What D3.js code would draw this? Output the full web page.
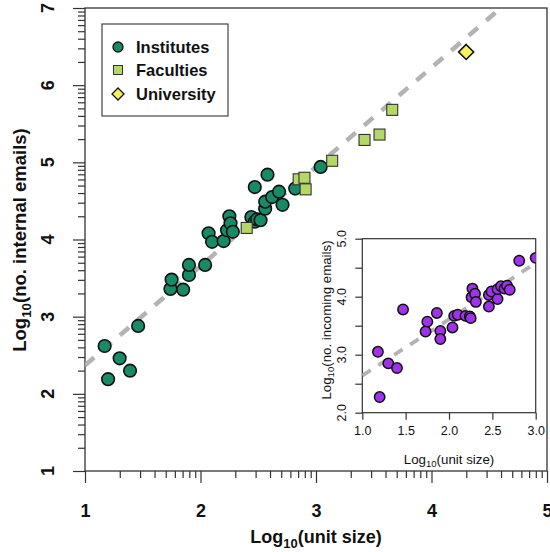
<!DOCTYPE html>
<html><head><meta charset="utf-8">
<script src="https://cdn.jsdelivr.net/npm/d3@7"></script>
<style>
body{margin:0;background:#fff}
svg{display:block}
text{font-family:"Liberation Sans",Arial,Helvetica,sans-serif;fill:#111}
</style>
</head><body>
<svg id="chart" width="550" height="552"></svg>
<script>
// ---------- data ----------
const categories = ["Institutes", "Faculties", "University"];
const instX = [1.17,1.20,1.30,1.39,1.46,1.74,1.75,1.85,1.90,1.90,2.04,2.07,2.10,2.20,2.23,2.25,2.26,2.28,2.44,2.47,2.49,2.52,2.47,2.56,2.56,2.58,2.62,2.68,2.71,2.82,3.04];
const instY = [2.62,2.19,2.46,2.30,2.88,3.36,3.48,3.35,3.54,3.67,3.67,4.08,3.97,3.98,4.12,4.30,4.21,4.10,4.29,4.23,4.26,4.25,4.68,4.40,4.49,4.84,4.55,4.62,4.45,4.66,4.94];
const facX = [2.40,2.85,2.90,2.91,3.14,3.42,3.55,3.66];
const facY = [4.15,4.78,4.80,4.65,5.02,5.29,5.36,5.68];
const uniX = [4.30];
const uniY = [6.43];
const fitX = [1.0, 4.6];
const fitY = [2.37, 7.0];

const insetX = [1.18,1.20,1.30,1.40,1.47,1.73,1.75,1.86,1.90,1.90,2.04,2.06,2.10,2.19,2.24,2.25,2.26,2.27,2.30,2.31,2.46,2.46,2.49,2.56,2.56,2.60,2.64,2.67,2.70,2.81,3.00];
const insetY = [3.05,2.27,2.85,2.77,3.78,3.40,3.57,3.72,3.41,3.27,3.47,3.67,3.69,3.67,3.66,3.63,3.99,4.14,4.05,3.91,3.83,4.03,4.09,3.96,4.13,4.18,4.14,4.19,4.12,4.62,4.67];
const insetFitX = [1.0, 2.97];
const insetFitY = [2.64, 4.55];

const xMajorTicks = [1,2,3,4,5];
const yMajorTicks = [1,2,3,4,5,6,7];
const insetXTicks = [1.0,1.5,2.0,2.5,3.0];
const insetYTicks = [2.0,2.5,3.0,3.5,4.0,4.5,5.0];
const insetYLabels = [2.0,3.0,4.0,5.0];

// ---------- setup ----------
const svg = d3.select("#chart");
const AX = "#333";
const cInst = "#178a66", cFac = "#b4d766", cUni = "#f8f25a", cIn = "#a032ee";

const x = d3.scaleLinear().domain([1,5]).range([85,547]);
const y = d3.scaleLinear().domain([1,7]).range([471,8]);

function minorLog(lo, hi){
  const a=[]; for(let i=lo;i<hi;i++) for(let k=2;k<=9;k++) a.push(i+Math.log10(k)); return a;
}
function styleAxis(g){
  g.select(".domain").remove();
  g.selectAll("line").attr("stroke",AX).attr("stroke-width",1.2);
}

// main frame
svg.append("rect").attr("x",x(1)).attr("y",y(7)).attr("width",x(5)-x(1)).attr("height",y(1)-y(7))
  .attr("fill","none").attr("stroke",AX).attr("stroke-width",1.3);

// x axis
svg.append("g").attr("transform",`translate(0,${y(1)})`)
  .call(d3.axisBottom(x).tickValues(minorLog(1,5)).tickSize(7).tickFormat("")).call(styleAxis);
const gx = svg.append("g").attr("transform",`translate(0,${y(1)})`)
  .call(d3.axisBottom(x).tickValues(xMajorTicks).tickSize(12).tickPadding(21).tickFormat(d3.format("d")));
styleAxis(gx);
gx.selectAll("text").attr("font-size",18).attr("font-weight","bold").attr("fill","#111")
  .attr("font-family",'"Liberation Sans",Arial,sans-serif');

// y axis
svg.append("g").attr("transform",`translate(${x(1)},0)`)
  .call(d3.axisLeft(y).tickValues(minorLog(1,7)).tickSize(7).tickFormat("")).call(styleAxis);
svg.append("g").attr("transform",`translate(${x(1)},0)`)
  .call(d3.axisLeft(y).tickValues(yMajorTicks).tickSize(12).tickFormat("")).call(styleAxis);
svg.append("g").selectAll("text").data(yMajorTicks).join("text")
  .attr("transform",d=>`translate(54,${y(d)}) rotate(-90)`)
  .attr("text-anchor","middle").attr("font-size",18).attr("font-weight","bold").text(d=>d);

// titles
function subTitle(sel, a, b, c, size){
  sel.append("tspan").text(a);
  sel.append("tspan").text(b).attr("font-size",size*0.72).attr("dy",size*0.25);
  sel.append("tspan").text(c).attr("dy",-size*0.25);
}
svg.append("text").attr("x",316).attr("y",543).attr("text-anchor","middle")
  .attr("font-size",18).attr("font-weight","bold").call(s=>subTitle(s,"Log","10","(unit size)",18));
svg.append("text").attr("transform","translate(26,240) rotate(-90)").attr("text-anchor","middle")
  .attr("font-size",18.5).attr("font-weight","bold").call(s=>subTitle(s,"Log","10","(no. internal emails)",18.5));

// clip for main plot
svg.append("clipPath").attr("id","mainclip").append("rect")
  .attr("x",x(1)).attr("y",y(7)).attr("width",x(5)-x(1)).attr("height",y(1)-y(7));

// fit line
svg.append("line").attr("clip-path","url(#mainclip)")
  .attr("x1",x(fitX[0])).attr("y1",y(fitY[0])).attr("x2",x(fitX[1])).attr("y2",y(fitY[1]))
  .attr("stroke","#b3b3b3").attr("stroke-width",4.5).attr("stroke-dasharray","12,11");

// points
const main = svg.append("g").attr("clip-path","url(#mainclip)");
main.selectAll("circle.inst").data(d3.range(instX.length)).join("circle").attr("class","inst")
  .attr("cx",i=>x(instX[i])).attr("cy",i=>y(instY[i])).attr("r",6.3)
  .attr("fill",cInst).attr("stroke","#111").attr("stroke-width",1.6);
const sq = 11;
main.selectAll("rect.fac").data(d3.range(facX.length)).join("rect").attr("class","fac")
  .attr("x",i=>x(facX[i])-sq/2).attr("y",i=>y(facY[i])-sq/2).attr("width",sq).attr("height",sq)
  .attr("fill",cFac).attr("stroke","#333").attr("stroke-width",1.1);
main.selectAll("path.uni").data(d3.range(uniX.length)).join("path").attr("class","uni")
  .attr("d",i=>{const cx=x(uniX[i]),cy=y(uniY[i]),r=7.5;return `M${cx},${cy-r}L${cx+r},${cy}L${cx},${cy+r}L${cx-r},${cy}Z`;})
  .attr("fill",cUni).attr("stroke","#111").attr("stroke-width",1.6);

// legend
const lg = svg.append("g");
lg.append("rect").attr("x",102).attr("y",24).attr("width",126).attr("height",92)
  .attr("fill","#fff").attr("stroke",AX).attr("stroke-width",1.1);
const ly = [47,70,94];
lg.append("circle").attr("cx",118).attr("cy",ly[0]).attr("r",5).attr("fill",cInst).attr("stroke","#111").attr("stroke-width",1.3);
lg.append("rect").attr("x",118-4.5).attr("y",ly[1]-4.5).attr("width",9).attr("height",9).attr("fill",cFac).attr("stroke","#333").attr("stroke-width",1);
lg.append("path").attr("d",`M118,${ly[2]-6}L124,${ly[2]}L118,${ly[2]+6}L112,${ly[2]}Z`).attr("fill",cUni).attr("stroke","#111").attr("stroke-width",1.3);
lg.selectAll("text").data(categories).join("text")
  .attr("x",136).attr("y",(d,i)=>ly[i]+6).attr("font-size",16.5).attr("font-weight","bold").text(d=>d);

// ---------- inset ----------
const ix = d3.scaleLinear().domain([1,3]).range([362.3,535.7]);
const iy = d3.scaleLinear().domain([2,5]).range([412.7,238.7]);
svg.append("clipPath").attr("id","insclip").append("rect")
  .attr("x",ix(1)).attr("y",iy(5)).attr("width",ix(3)-ix(1)).attr("height",iy(2)-iy(5));
svg.append("rect").attr("x",ix(1)).attr("y",iy(5)).attr("width",ix(3)-ix(1)).attr("height",iy(2)-iy(5))
  .attr("fill","none").attr("stroke",AX).attr("stroke-width",1.2);
const gix = svg.append("g").attr("transform",`translate(0,${iy(2)})`)
  .call(d3.axisBottom(ix).tickValues(insetXTicks).tickSize(7).tickPadding(6).tickFormat(d3.format(".1f")));
styleAxis(gix);
gix.selectAll("text").attr("font-size",12.5).attr("fill","#111").attr("font-family",'"Liberation Sans",Arial,sans-serif');
svg.append("g").attr("transform",`translate(${ix(1)},0)`)
  .call(d3.axisLeft(iy).tickValues(insetYTicks).tickSize(7).tickFormat("")).call(styleAxis);
svg.append("g").selectAll("text").data(insetYLabels).join("text")
  .attr("transform",d=>`translate(346,${iy(d)}) rotate(-90)`)
  .attr("text-anchor","middle").attr("font-size",12.5).text(d3.format(".1f"));
svg.append("text").attr("x",449).attr("y",464).attr("text-anchor","middle")
  .attr("font-size",13.3).call(s=>subTitle(s,"Log","10","(unit size)",13.3));
svg.append("text").attr("transform","translate(331,320) rotate(-90)").attr("text-anchor","middle")
  .attr("font-size",13.3).call(s=>subTitle(s,"Log","10","(no. incoming emails)",13.3));

const ins = svg.append("g").attr("clip-path","url(#insclip)");
ins.append("line").attr("x1",ix(insetFitX[0])).attr("y1",iy(insetFitY[0])).attr("x2",ix(insetFitX[1])).attr("y2",iy(insetFitY[1]))
  .attr("stroke","#b3b3b3").attr("stroke-width",3.8).attr("stroke-dasharray","10,9");
ins.selectAll("circle").data(d3.range(insetX.length)).join("circle")
  .attr("cx",i=>ix(insetX[i])).attr("cy",i=>iy(insetY[i])).attr("r",5.2)
  .attr("fill",cIn).attr("stroke","#111").attr("stroke-width",1.5);
</script>
</body></html>
